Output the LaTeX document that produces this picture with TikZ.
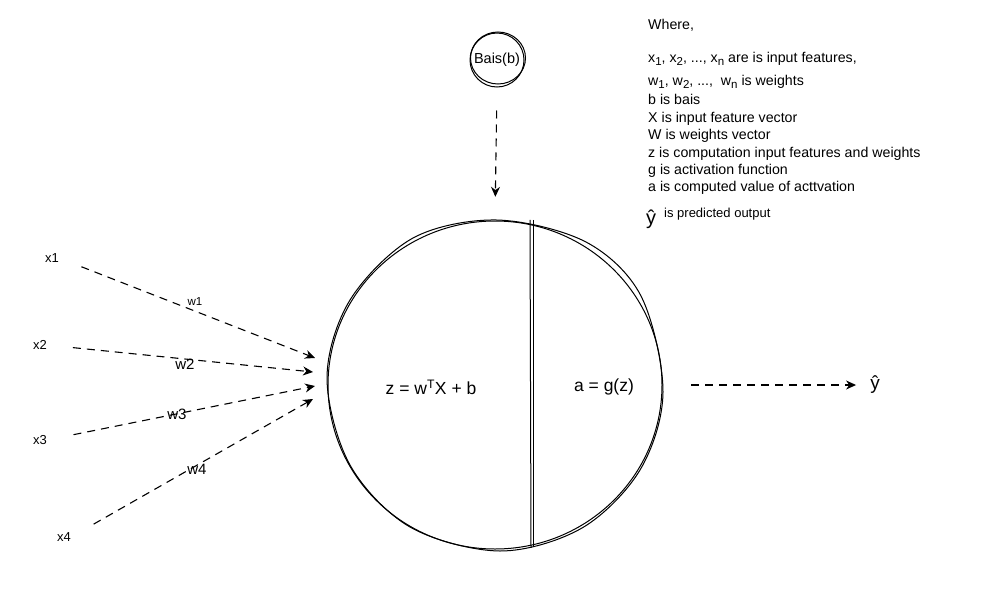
\documentclass[tikz,border=0pt]{standalone}
\usepackage{fontspec}
\setmainfont{Liberation Sans}
\usetikzlibrary{arrows.meta}
\newcommand\mysub[1]{\raisebox{-3.5pt}{\fontsize{11.5}{12}\selectfont #1}}
\begin{document}
\begin{tikzpicture}[x=1pt,y=-1pt,
  sk/.style={line width=1pt, black},
  conn/.style={line width=1.1pt, dash pattern=on 8pt off 6pt, -{Stealth[length=10pt,width=9pt]}},
  lbl/.style={font=\fontsize{13}{14}\selectfont, inner sep=0pt},
  wl/.style={font=\fontsize{15}{17}\selectfont, inner sep=0pt},
  leg/.style={font=\fontsize{14.2}{16}\selectfont, anchor=base west, inner sep=0pt},
  eq/.style={font=\fontsize{17.5}{20}\selectfont, inner sep=0pt}]
\useasboundingbox (0,0) rectangle (1006,608);
\fill[white] (0,0) rectangle (1006,608);

% neuron
\node[circle, minimum size=332pt, inner sep=0pt] (neuron) at (495,385) {};
\draw[sk] (495,385) ellipse [x radius=167, y radius=164];
\draw[sk] plot[smooth cycle, tension=0.55] coordinates {(663,392) (641,296) (586,242) (497,220) (413,238) (350,300) (327,378) (350,465) (410,527) (500,551) (582,528) (640,470)};
\draw[sk] (neuron.north) ++(35,1) coordinate (d1) -- ++(1,328);
\draw[sk] (d1) ++(3,0) -- ++(0,327);
\node[eq] (zeq) at (431,387) {z = w\textsuperscript{T}X + b};
\node[eq] (aeq) at (604,387) {a = g(z)};

% bias
\node[circle, draw, sk, minimum size=54pt, inner sep=0pt, font=\fontsize{14.5}{16}\selectfont] (bias) at (497,60) {Bais(b)};
\draw[sk] (498,58) ellipse [x radius=27.5, y radius=26];
\draw[conn, shorten <=23pt, shorten >=22pt] (bias.south) -- (neuron.north);

% inputs
\node[lbl] (x1) at (52,258) {x1};
\node[lbl] (x2) at (40,345) {x2};
\node[lbl] (x3) at (40,440) {x3};
\node[lbl] (x4) at (64,537) {x4};
\coordinate (in1) at (315,358);
\coordinate (in2) at (313,372);
\coordinate (in3) at (315,386);
\coordinate (in4) at (313,399);
\draw[conn, shorten <=24pt] (x1.east) -- (in1);
\draw[conn, shorten <=26pt] (x2.east) -- (in2);
\draw[conn, shorten <=27pt] (x3.east) -- (in3);
\draw[conn, shorten <=26pt] (x4.east) -- (in4);
\node[inner sep=0pt, font=\fontsize{11.5}{13}\selectfont] (w1) at (195,302) {w1};
\node[wl] (w2) at (185,364) {w2};
\node[wl] (w3) at (177,414) {w3};
\node[wl] (w4) at (197,469) {w4};

% output
\node[inner sep=0pt, font=\fontsize{19}{21}\selectfont] (yhat) at (875,385) {ŷ};
\draw[conn, shorten <=30pt, shorten >=14pt] (neuron.east) -- (yhat.west);

% legend
\node[leg] (l0) at (648,29) {Where,};
\node[leg] (l1) at (648,62) {x\mysub{1}, x\mysub{2}, ..., x\mysub{n} are is input features,};
\node[leg] (l2) at (648,85) {w\mysub{1}, w\mysub{2}, ...,\ \ w\mysub{n} is weights};
\node[leg] (l3) at (648,104) {b is bais};
\node[leg] (l4) at (648,122) {X is input feature vector};
\node[leg] (l5) at (648,139) {W is weights vector};
\node[leg] (l6) at (648,157) {z is computation input features and weights};
\node[leg] (l7) at (648,174) {g is activation function};
\node[leg] (l8) at (648,191) {a is computed value of acttvation};
\node[leg, font=\fontsize{20}{22}\selectfont] (l9) at (646,224) {ŷ};
\node[leg, font=\fontsize{13}{14}\selectfont] (l9b) at (664,217) {is predicted output};
\end{tikzpicture}
\end{document}
